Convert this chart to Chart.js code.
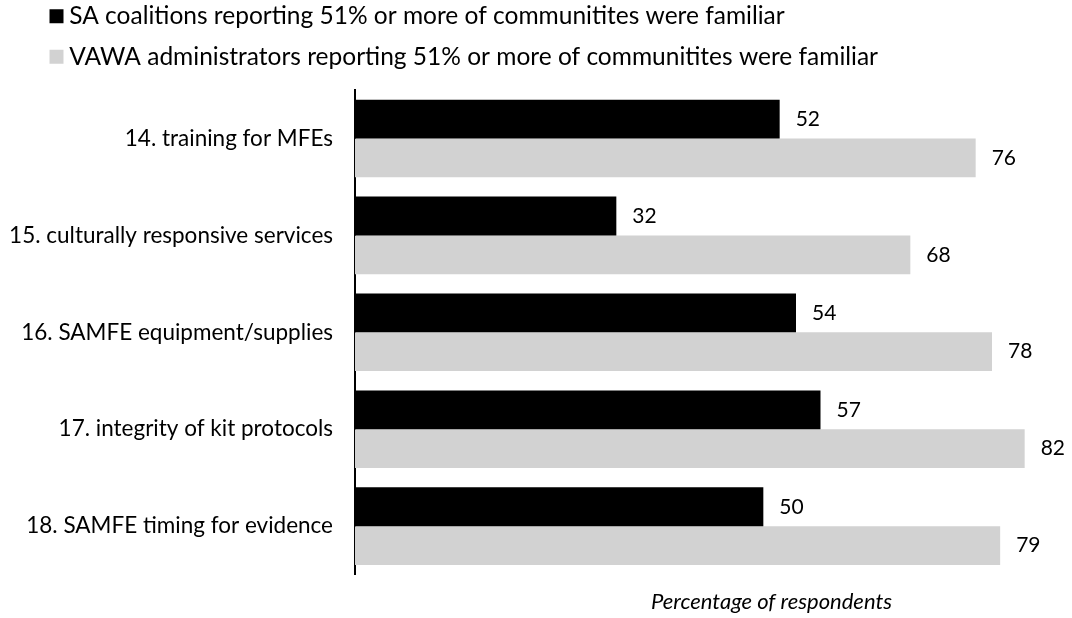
<!DOCTYPE html>
<html lang="en">
<head>
<meta charset="UTF-8">
<title>Familiarity chart</title>
<style type="text/css">
    body{ margin:0; background:#fff; }
    .chartBox{ position:relative; width:1072px; height:618px; overflow:hidden; }
    #myChart{ position:absolute; left:0; top:-12px; }
</style>
</head>
<body>
<div class="chartBox">
    <canvas id="myChart" width="1190" height="630"></canvas>
</div>

<script src="https://cdn.jsdelivr.net/npm/chart.js"></script>
<script>
// data
const categories = ['14. training for MFEs', '15. culturally responsive services', '16. SAMFE equipment/supplies',
    '17. integrity of kit protocols', '18. SAMFE timing for evidence'];
const saCoalitions = [52, 32, 54, 57, 50];
const vawaAdmins = [76, 68, 78, 82, 79];
const seriesNames = ['SA coalitions reporting 51% or more of communitites were familiar',
    'VAWA administrators reporting 51% or more of communitites were familiar'];

Chart.defaults.font.family = 'Lato';
Chart.defaults.color = '#000';

// extra gap under the legend, and push it right a bit
const legendPlace = {
    id: 'legendPlace',
    beforeInit(chart) {
        const fit = chart.legend.fit;
        chart.legend.fit = function () {
            fit.bind(chart.legend)();
            this.height += 11;
        };
    },
    afterLayout(chart) {
        chart.legend.left += 40;
        chart.legend.right += 40;
    }
};

// numbers at the bar ends
const barValues = {
    id: 'barValues',
    afterDatasetsDraw(chart) {
        const ctx = chart.ctx;
        ctx.save();
        ctx.font = '21px Lato';
        ctx.fillStyle = '#000';
        ctx.textAlign = 'left';
        ctx.textBaseline = 'middle';
        chart.data.datasets.forEach((ds, i) => {
            chart.getDatasetMeta(i).data.forEach((bar, j) => {
                ctx.fillText(ds.data[j], bar.x + 16, bar.y);
            });
        });
        ctx.restore();
    }
};

const myChart = new Chart(document.getElementById('myChart'), {
    type: 'bar',
    data: {
        labels: categories,
        datasets: [{
            label: seriesNames[0],
            data: saCoalitions,
            backgroundColor: '#000000',
            borderWidth: 0
        }, {
            label: seriesNames[1],
            data: vawaAdmins,
            backgroundColor: '#d2d2d2',
            borderWidth: 0
        }]
    },
    options: {
        indexAxis: 'y',
        responsive: false,
        animation: false,
        devicePixelRatio: 1,
        categoryPercentage: 0.8,
        barPercentage: 1,
        layout: { padding: { left: 0, right: 2, top: 0, bottom: 0 } },
        plugins: {
            legend: {
                position: 'top',
                align: 'start',
                labels: {
                    usePointStyle: true,
                    pointStyle: 'rect',
                    boxWidth: 1,
                    boxHeight: 14,
                    padding: 16,
                    font: { size: 24.5 },
                    color: '#000'
                }
            },
            tooltip: { enabled: false }
        },
        scales: {
            x: {
                min: 0,
                max: 102,
                ticks: { display: false },
                grid: { display: false, drawTicks: false },
                border: { display: false },
                title: {
                    display: true,
                    text: 'Percentage of respondents',
                    font: { size: 22, style: 'italic' },
                    padding: { top: 14, bottom: 3 }
                }
            },
            y: {
                grid: { display: false, drawTicks: false },
                border: { display: true, color: '#000', width: 2 },
                ticks: { padding: 22, font: { size: 22.5 }, color: '#000' },
                afterFit(scale) { scale.width = 355; }
            }
        }
    },
    plugins: [legendPlace, barValues]
});
</script>
</body>
</html>
